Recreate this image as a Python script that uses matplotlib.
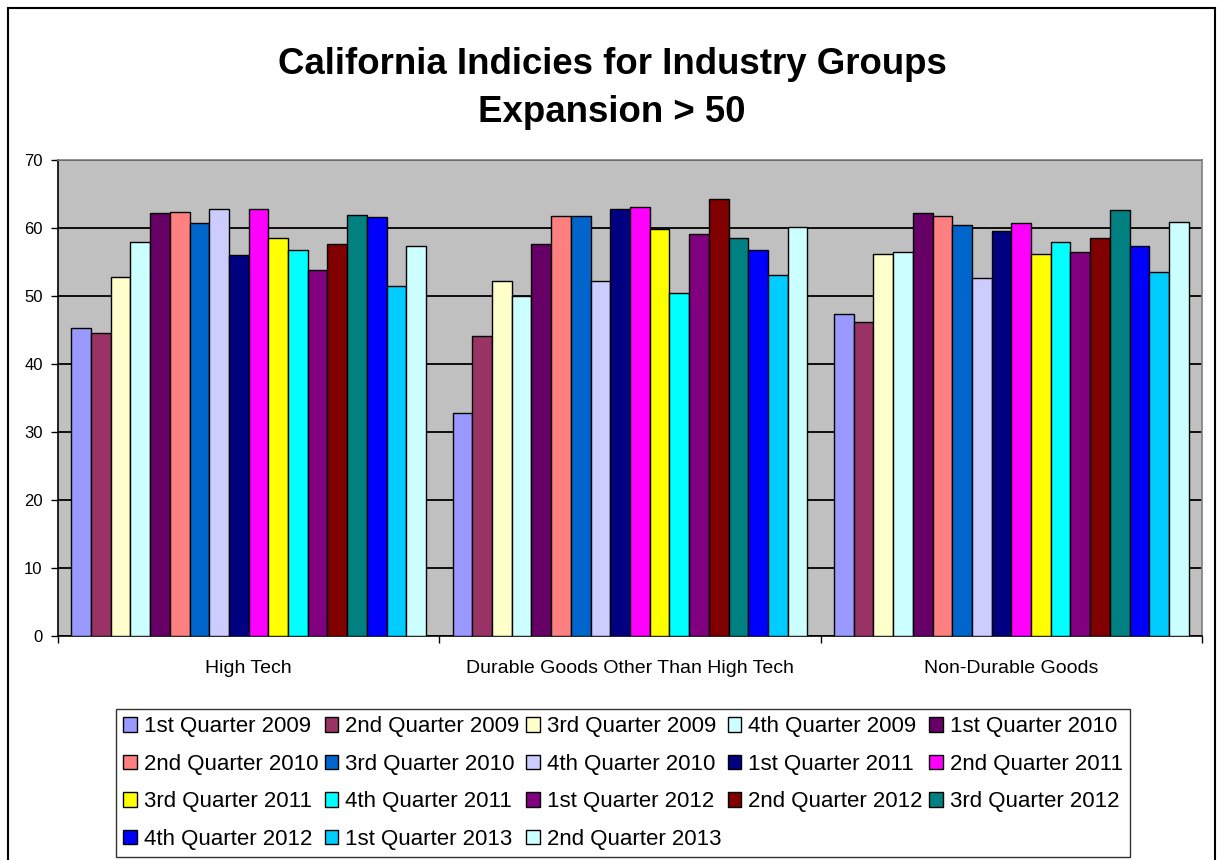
import numpy as np
import matplotlib
matplotlib.use('Agg')
import matplotlib.pyplot as plt
from matplotlib.patches import Rectangle

plt.rcParams['font.family'] = ['Liberation Sans', 'DejaVu Sans']

categories = ['High Tech', 'Durable Goods Other Than High Tech', 'Non-Durable Goods']

quarters = ['1st Quarter 2009', '2nd Quarter 2009', '3rd Quarter 2009', '4th Quarter 2009',
            '1st Quarter 2010', '2nd Quarter 2010', '3rd Quarter 2010', '4th Quarter 2010',
            '1st Quarter 2011', '2nd Quarter 2011', '3rd Quarter 2011', '4th Quarter 2011',
            '1st Quarter 2012', '2nd Quarter 2012', '3rd Quarter 2012', '4th Quarter 2012',
            '1st Quarter 2013', '2nd Quarter 2013']

high_tech = [45.3, 44.6, 52.8, 57.9, 62.2, 62.4, 60.7, 62.8, 56.0,
             62.8, 58.6, 56.7, 53.8, 57.6, 61.9, 61.6, 51.5, 57.4]
durable = [32.8, 44.1, 52.2, 50.0, 57.6, 61.7, 61.7, 52.2, 62.8,
           63.1, 59.8, 50.5, 59.1, 64.3, 58.6, 56.7, 53.1, 60.2]
non_durable = [47.4, 46.2, 56.2, 56.4, 62.2, 61.7, 60.5, 52.6, 59.6,
               60.7, 56.2, 57.9, 56.4, 58.6, 62.6, 57.4, 53.6, 60.9]

colors = ['#9999FF', '#993366', '#FFFFCC', '#CCFFFF', '#660066', '#FF8080',
          '#0066CC', '#CCCCFF', '#000080', '#FF00FF', '#FFFF00', '#00FFFF',
          '#800080', '#800000', '#008080', '#0000FF', '#00CCFF', '#CCFFFF']

values = np.array([high_tech, durable, non_durable])  # rows = categories

fig = plt.figure(figsize=(12.19, 8.6), dpi=100)
ax = fig.add_axes([58/1219, 1 - 636/860, (1202-58)/1219, (636-160)/860])
ax.set_facecolor('#C0C0C0')

n = len(quarters)
group = 0.93
w = group / n
x = np.arange(len(categories))
bars = []
for i in range(n):
    b = ax.bar(x - group/2 + (i + 0.5)*w, values[:, i], width=w, color=colors[i],
               edgecolor='black', linewidth=1.0, label=quarters[i], zorder=3)
    bars.append(b)

ax.set_xlim(-0.5, 2.5)
ax.set_ylim(0, 70)
ax.set_yticks(range(0, 71, 10))
ax.yaxis.grid(True, color='black', linewidth=1.3, zorder=1)
ax.set_axisbelow(True)
ax.tick_params(axis='y', labelsize=12, length=5, direction='out', width=1, pad=6)
ax.set_xticks([-0.5, 0.5, 1.5, 2.5])
ax.set_xticklabels([])
ax.tick_params(axis='x', length=5, width=1)
for xi, c in zip(x, categories):
    ax.text(xi, -4.8, c, ha='center', va='center', fontsize=14)

ax.spines['left'].set_color('black')
ax.spines['bottom'].set_color('black')
ax.spines['top'].set_color('#808080')
ax.spines['right'].set_color('#808080')
for s in ax.spines.values():
    s.set_linewidth(1.2)

fig.text(612/1219, 1 - 65/860, 'California Indicies for Industry Groups',
         ha='center', va='center', fontsize=26.4, fontweight='bold')
fig.text(612/1219, 1 - 112/860, 'Expansion > 50',
         ha='center', va='center', fontsize=26.4, fontweight='bold')

# Excel fills the legend row by row; matplotlib fills column by column
order = [0, 5, 10, 15, 1, 6, 11, 16, 2, 7, 12, 17, 3, 8, 13, 4, 9, 14]
handles = [bars[i] for i in order]
labels = [quarters[i] for i in order]
leg = fig.legend(handles, labels, ncol=5, loc='center', bbox_to_anchor=(623/1219, 1 - 783/860),
                 fontsize=16, frameon=True, fancybox=False, edgecolor='black',
                 handlelength=0.62, handleheight=0.62, handletextpad=0.32,
                 columnspacing=0.28, labelspacing=0.74, borderpad=0.32, borderaxespad=0)
leg.get_frame().set_linewidth(1.0)

fig.patches.append(Rectangle((8/1219, -0.01), (1215-8)/1219, 1 - 8/860 + 0.01,
                             transform=fig.transFigure, fill=False,
                             edgecolor='black', linewidth=1.5))

fig.savefig('out.png', dpi=100)
